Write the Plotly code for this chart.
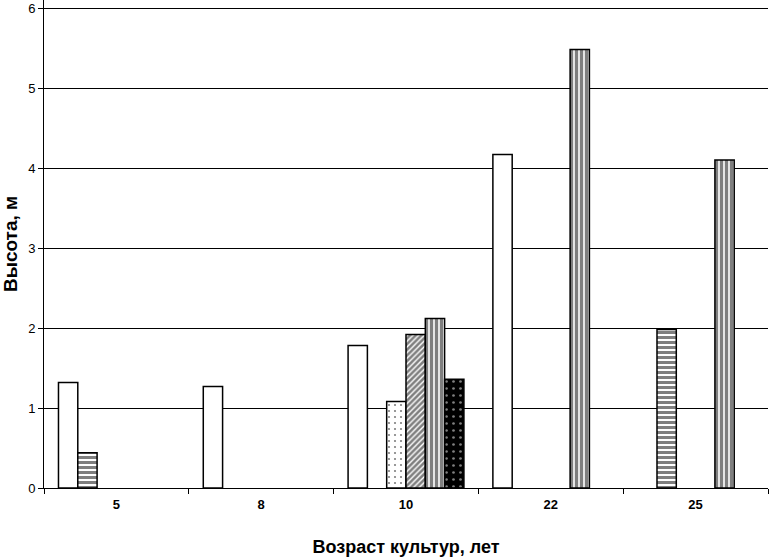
import plotly.graph_objects as go

categories = ["5", "8", "10", "22", "25"]
s_white = [1.32, 1.27, 1.78, 4.17, None]
s_hstripe = [0.44, None, None, None, 1.98]
s_lightdot = [None, None, 1.08, None, None]
s_hatch = [None, None, 1.92, None, None]
s_vstripe = [None, None, 2.12, 5.48, 4.10]
s_darkdot = [None, None, 1.36, None, None]

series = [
    ("s1", s_white, dict(shape="", bgcolor="white")),
    ("s2", s_hstripe, dict(shape="-", bgcolor="white", fgcolor="black", size=5, solidity=0.6)),
    ("s3", s_lightdot, dict(shape=".", bgcolor="white", fgcolor="black", size=6, solidity=0.1)),
    ("s4", s_hatch, dict(shape="/", bgcolor="white", fgcolor="black", size=4, solidity=0.65)),
    ("s5", s_vstripe, dict(shape="|", bgcolor="white", fgcolor="black", size=5, solidity=0.68)),
    ("s6", s_darkdot, dict(shape=".", bgcolor="black", fgcolor="white", size=7, solidity=0.12)),
]

fig = go.Figure()
for name, vals, pat in series:
    fig.add_trace(go.Bar(
        x=categories, y=vals, name=name,
        marker=dict(color="white", line=dict(color="black", width=1.5), pattern=pat),
    ))

font = "Liberation Sans, Arial, sans-serif"
fig.update_layout(
    width=770, height=559,
    margin=dict(l=44, r=2, t=0, b=71, autoexpand=False),
    plot_bgcolor="white", paper_bgcolor="white",
    showlegend=False,
    barmode="group", bargap=0.2, bargroupgap=0,
    font=dict(family=font, color="black"),
    xaxis=dict(
        type="category", showline=True, linecolor="black", linewidth=1,
        ticks="outside", tickson="boundaries", ticklen=5, tickcolor="black",
        tickfont=dict(size=13, color="black"),
        tickprefix="<b>", ticksuffix="</b>", ticklabelstandoff=4,
        title=dict(text="<b>Возраст культур, лет</b>", font=dict(size=18), standoff=29),
        showgrid=False, automargin=False,
    ),
    yaxis=dict(
        range=[0, 6.1], tickvals=[0, 1, 2, 3, 4, 5, 6], showline=True, linecolor="black", linewidth=1,
        ticks="outside", ticklen=5, tickcolor="black",
        tickfont=dict(size=13, color="black"),
        tickprefix="<b>", ticksuffix="</b>", ticklabeloverflow="allow",
        showgrid=True, gridcolor="black", gridwidth=1,
        zeroline=False, automargin=False,
        title=dict(text="<b>Высота, м</b>", font=dict(size=19), standoff=10),
    ),
)
fig.write_html("out.html", config={"displayModeBar": False},
               post_script="document.body.style.margin='0';")
